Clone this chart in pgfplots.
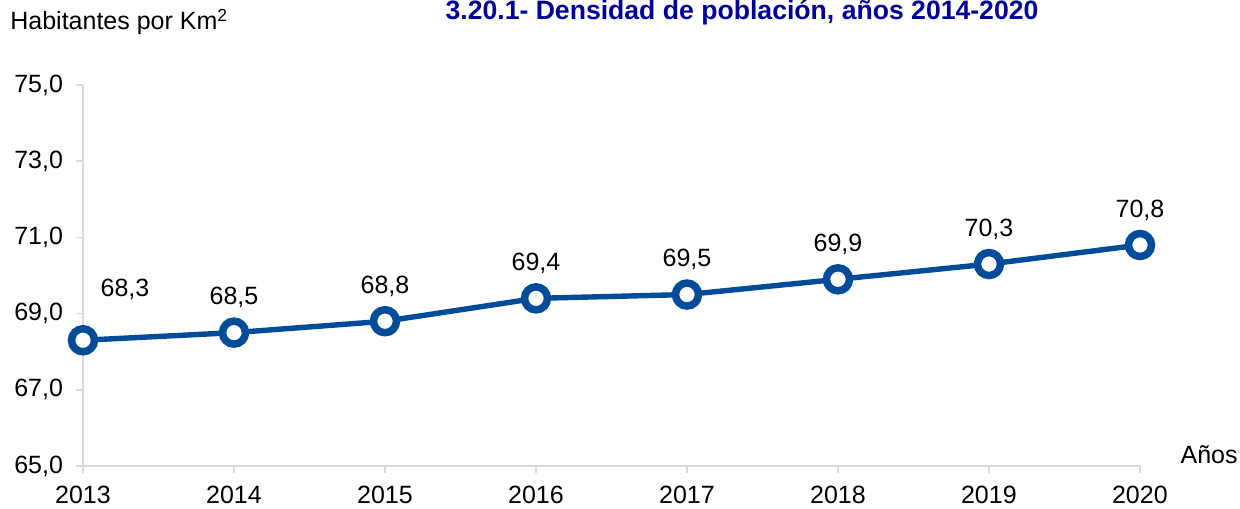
\documentclass[border=0pt]{standalone}
\usepackage{fontspec}
\setmainfont{Liberation Sans}
\usepackage{pgfplots}
\pgfplotsset{compat=1.18}
\definecolor{serie}{RGB}{0,76,153}
\definecolor{titulo}{RGB}{0,0,153}
\definecolor{eje}{RGB}{217,217,217}
\begin{document}
\begin{tikzpicture}[font=\fontsize{12.5}{14}\selectfont]
\path[use as bounding box] (-41.5pt,-21pt) rectangle (578.5pt,233pt);
\begin{axis}[
  at={(0,0)}, anchor=origin,
  scale only axis,
  width=528.5pt, height=190.5pt,
  xmin=2013, xmax=2020,
  ymin=65, ymax=75,
  xtick={2013,...,2020},
  ytick={65,67,...,75},
  axis x line=bottom, axis y line=left,
  axis line style={-, eje, line width=0.8pt},
  tick style={eje, line width=0.8pt},
  tick align=outside,
  major tick length=3.5pt,
  clip=false,
  /pgf/number format/assume math mode=true,
  xticklabel style={/pgf/number format/1000 sep={}, yshift=-3pt},
  yticklabel style={/pgf/number format/use comma, /pgf/number format/fixed,
    /pgf/number format/fixed zerofill, /pgf/number format/precision=1, xshift=-3pt},
]
\addplot[serie, line width=2.7pt, mark=*, mark size=5.75pt,
  mark options={fill=white, draw=serie, line width=3.75pt}] coordinates {
  (2013,68.3) (2014,68.5) (2015,68.8) (2016,69.4)
  (2017,69.5) (2018,69.9) (2019,70.3) (2020,70.8)
};
\node at (axis cs:2013,68.3) [xshift=21pt, yshift=25.5pt] {68,3};
\node at (axis cs:2014,68.5) [yshift=17.5pt] {68,5};
\node at (axis cs:2015,68.8) [yshift=17.5pt] {68,8};
\node at (axis cs:2016,69.4) [yshift=17.5pt] {69,4};
\node at (axis cs:2017,69.5) [yshift=17.5pt] {69,5};
\node at (axis cs:2018,69.9) [yshift=17.5pt] {69,9};
\node at (axis cs:2019,70.3) [yshift=17.5pt] {70,3};
\node at (axis cs:2020,70.8) [yshift=17.5pt] {70,8};
\end{axis}
\node[anchor=west, inner sep=0pt] at (-36.5pt,222pt) {Habitantes por Km\textsuperscript{2}};
\node[text=titulo, font=\fontsize{13.3}{15}\selectfont\bfseries] at (329.5pt,226.5pt) {3.20.1- Densidad de población, años 2014-2020};
\node[anchor=east, inner sep=0pt] at (577.5pt,5.5pt) {Años};
\end{tikzpicture}
\end{document}
